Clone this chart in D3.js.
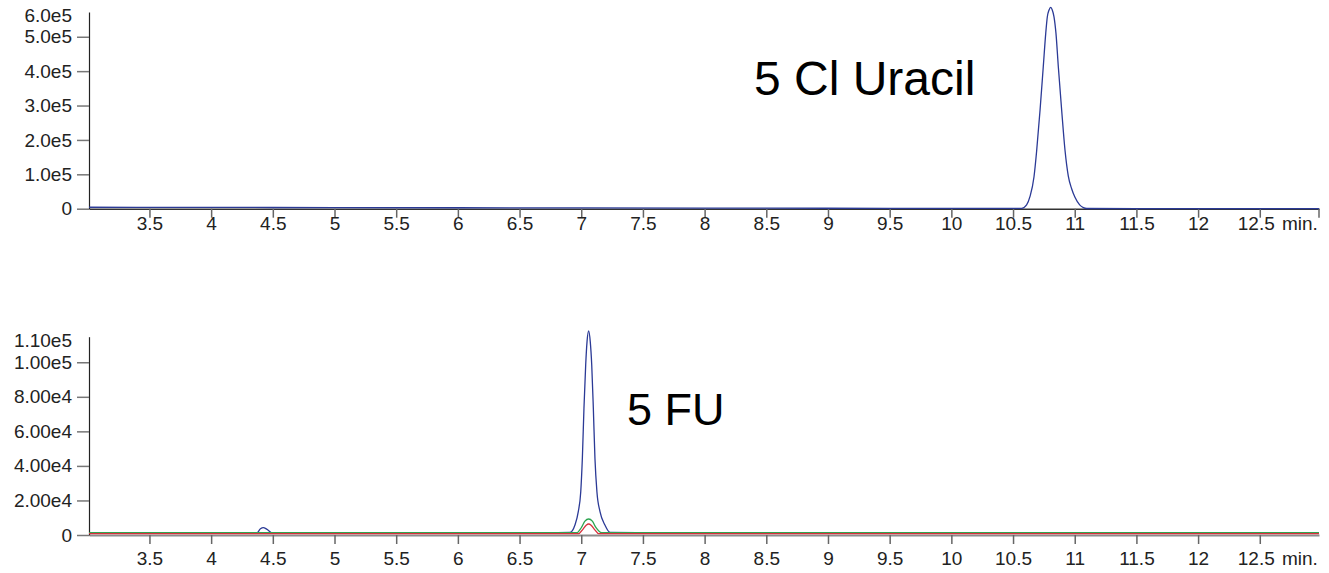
<!DOCTYPE html>
<html lang="en">
<head>
    <meta charset="UTF-8">
    <title>chromatogram</title>
    <script src="https://cdn.jsdelivr.net/npm/d3@7/dist/d3.min.js"></script>
    <style>
        body { margin: 0; background: #fff; }
        text { font-family: "Liberation Sans", Arial, Helvetica, sans-serif; }
    </style>
</head>
<body>

<script>
    // x ticks (minutes), shared by both panels
    var xTicks = [3.5, 4, 4.5, 5, 5.5, 6, 6.5, 7, 7.5, 8, 8.5, 9, 9.5, 10, 10.5, 11, 11.5, 12, 12.5];
    var xUnit = "min.";

    // top panel: 5 Cl Uracil trace
    var topTicks = [0, 1e5, 2e5, 3e5, 4e5, 5e5];
    var topTickLabels = ["0", "1.0e5", "2.0e5", "3.0e5", "4.0e5", "5.0e5"];
    var topMaxLabel = "6.0e5";
    var topTitle = "5 Cl Uracil";
    var topTime = [3.01, 4, 5, 6, 7, 8, 9, 10, 10.57, 10.61, 10.637, 10.67, 10.692, 10.719, 10.745, 10.765,
        10.778, 10.792, 10.805, 10.818, 10.832, 10.848, 10.867, 10.894, 10.921, 10.948, 10.975, 11.002, 11.04,
        11.07, 11.097, 11.5, 12, 12.98];
    var topIntensity = [4200, 3800, 3300, 2800, 2300, 1800, 1300, 900, 800, 10800, 34900, 93000, 170600, 287000, 412800, 509900,
        558100, 578000, 585500, 578000, 558100, 509900, 412800, 287000, 170600, 95000, 58000, 33000, 11000,
        3000, 600, 500, 400, 400];

    // bottom panel: 5 FU traces
    var botTicks = [0, 2e4, 4e4, 6e4, 8e4, 1e5];
    var botTickLabels = ["0", "2.00e4", "4.00e4", "6.00e4", "8.00e4", "1.00e5"];
    var botMaxLabel = "1.10e5";
    var botTitle = "5 FU";
    var blueTime = [3.01, 4, 4.369, 4.40, 4.423, 4.45, 4.499, 5, 6, 6.5, 6.909, 6.949, 6.976, 6.996, 7.009, 7.022,
        7.036, 7.047, 7.060, 7.073, 7.085, 7.098, 7.111, 7.127, 7.152, 7.192, 7.233, 8, 10, 12.98];
    var blueIntensity = [1100, 1100, 1100, 3600, 4230, 3400, 1100, 1100, 1100, 1100, 1560, 5790, 13490, 25070, 44410, 73360,
        98440, 111930, 118120, 111930, 98440, 73360, 44410, 25070, 13490, 5790, 1560, 1100, 1100, 1100];
    var greenTime = [3.01, 6.5, 6.963, 7.0, 7.03, 7.06, 7.09, 7.12, 7.165, 8, 12.98];
    var greenIntensity = [1300, 1300, 1300, 4200, 8000, 9260, 8000, 4200, 1300, 1300, 1300];
    var redTime = [3.01, 6.5, 6.98, 7.01, 7.04, 7.06, 7.08, 7.11, 7.14, 8, 12.98];
    var redIntensity = [800, 800, 800, 3000, 5700, 6370, 5700, 3000, 800, 800, 800];

    var width = 1329;
    var height = 573;

    var svg = d3.select("body").append("svg")
        .attr("width", width)
        .attr("height", height);

    var x = d3.scaleLinear()
        .domain([3.01, 12.98])
        .range([89, 1319]);

    var yTop = d3.scaleLinear()
        .domain([0, 572000])
        .range([208.7, 12]);

    var yBot = d3.scaleLinear()
        .domain([0, 114800])
        .range([535, 336.7]);

    function pairs(t, v) {
        return t.map(function (d, i) {
            return {t: d, v: v[i]};
        });
    }

    function drawYAxis(y, ticks, labels, maxLabel) {
        var axis = d3.axisLeft(y)
            .tickValues(ticks)
            .tickFormat(function (d, i) {
                return labels[i];
            })
            .tickSize(12)
            .tickSizeOuter(0)
            .tickPadding(5);
        var g = svg.append("g")
            .attr("transform", "translate(" + x.range()[0] + ",0)")
            .call(axis);
        g.select(".domain").attr("stroke", "#222").attr("stroke-width", 1.2);
        g.selectAll(".tick line").attr("stroke", "#777").attr("stroke-width", 1.5);
        g.selectAll(".tick text")
            .attr("fill", "#222")
            .style("font-size", "19px")
            .style("font-family", "'Liberation Sans', Arial, sans-serif");
        g.append("text")
            .attr("x", -17)
            .attr("y", y.range()[1] + 4)
            .attr("dy", "0.32em")
            .attr("text-anchor", "end")
            .attr("fill", "#222")
            .style("font-size", "19px")
            .text(maxLabel);
    }

    function drawXAxis(y, labelY, lineColor, lineWidth, endTick) {
        var axis = d3.axisBottom(x)
            .tickValues(xTicks)
            .tickFormat(function (d) {
                return String(d);
            })
            .tickSize(9)
            .tickSizeOuter(0);
        var g = svg.append("g")
            .attr("transform", "translate(0," + y.range()[0] + ")")
            .call(axis);
        g.select(".domain").attr("stroke", lineColor).attr("stroke-width", lineWidth);
        g.selectAll(".tick line").attr("stroke", "#666").attr("stroke-width", 1.5);
        g.selectAll(".tick text")
            .attr("y", labelY)
            .attr("dy", 0)
            .attr("dx", function (d, i) {
                // last label sits a little left, next to the unit
                return i === xTicks.length - 1 ? -4 : 0;
            })
            .attr("fill", "#222")
            .style("font-size", "19px")
            .style("font-family", "'Liberation Sans', Arial, sans-serif");
        if (endTick) {
            g.append("line")
                .attr("x1", x.range()[1])
                .attr("x2", x.range()[1])
                .attr("y1", 0)
                .attr("y2", 9)
                .attr("stroke", "#666")
                .attr("stroke-width", 1.5);
        }
        g.append("text")
            .attr("x", 1282)
            .attr("y", labelY)
            .attr("text-anchor", "start")
            .attr("fill", "#222")
            .style("font-size", "19px")
            .text(xUnit);
    }

    function drawTrace(y, t, v, color) {
        var line = d3.line()
            .x(function (d) {
                return x(d.t);
            })
            .y(function (d) {
                return y(d.v);
            })
            .curve(d3.curveMonotoneX);
        svg.append("path")
            .attr("d", line(pairs(t, v)))
            .attr("fill", "none")
            .attr("stroke", color)
            .attr("stroke-width", 1.3);
    }

    // top panel
    drawXAxis(yTop, 21.7, "#333", 1.5, true);
    drawYAxis(yTop, topTicks, topTickLabels, topMaxLabel);
    drawTrace(yTop, topTime, topIntensity, "#2b3a96");
    svg.append("text")
        .attr("x", 754)
        .attr("y", 95)
        .attr("fill", "#000")
        .style("font-size", "48px")
        .text(topTitle);

    // bottom panel
    drawXAxis(yBot, 29.5, "#8c8c8c", 2.2, false);
    drawYAxis(yBot, botTicks, botTickLabels, botMaxLabel);
    drawTrace(yBot, blueTime, blueIntensity, "#2b3a96");
    drawTrace(yBot, greenTime, greenIntensity, "#2ea551");
    drawTrace(yBot, redTime, redIntensity, "#d8323c");
    svg.append("text")
        .attr("x", 627)
        .attr("y", 425)
        .attr("fill", "#000")
        .style("font-size", "45px")
        .text(botTitle);
</script>
</body>
</html>
